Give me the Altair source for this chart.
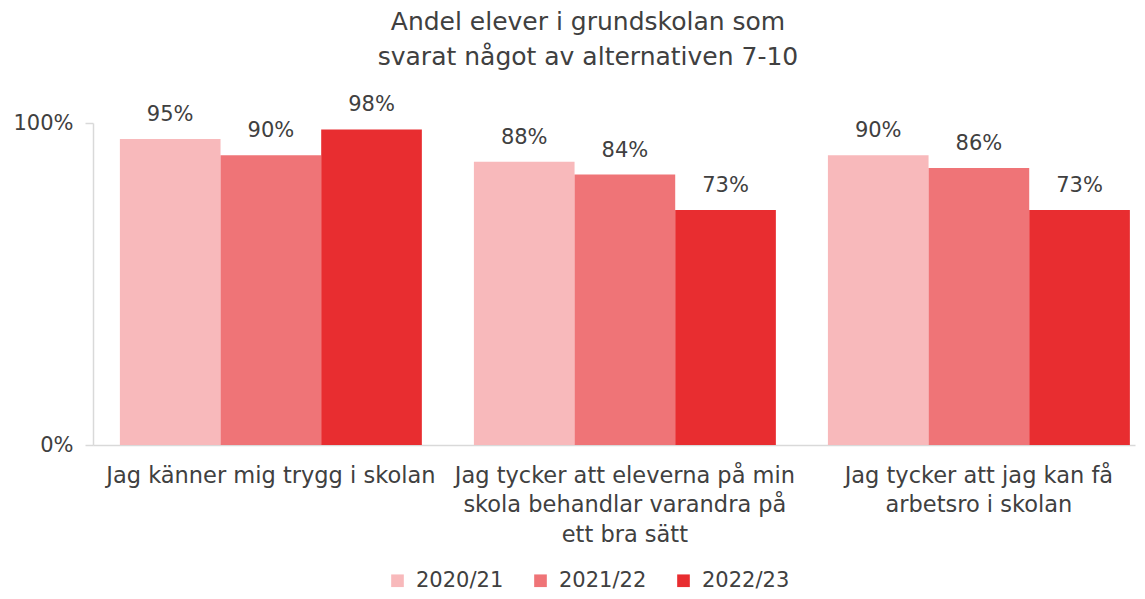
import altair as alt
import pandas as pd

categories = [
    "Jag känner mig trygg i skolan",
    "Jag tycker att eleverna på min|skola behandlar varandra på|ett bra sätt",
    "Jag tycker att jag kan få|arbetsro i skolan",
]
years = ["2020/21", "2021/22", "2022/23"]
values = {
    "2020/21": [0.95, 0.88, 0.90],
    "2021/22": [0.90, 0.84, 0.86],
    "2022/23": [0.98, 0.73, 0.73],
}
colors = ["#f8b9bb", "#ef7477", "#e82d30"]

rows = []
for y in years:
    for c, v in zip(categories, values[y]):
        rows.append({"kategori": c, "år": y, "andel": v})
df = pd.DataFrame(rows)

FONT = "DejaVu Sans"
TXT = "#404040"

base = alt.Chart(df).encode(
    x=alt.X(
        "kategori:N",
        sort=categories,
        scale=alt.Scale(paddingInner=0.147, paddingOuter=0.0452, align=0.84),
        axis=alt.Axis(
            title=None,
            labelAngle=0,
            labelExpr="split(datum.label, '|')",
            labelFontSize=22.5,
            labelColor=TXT,
            labelFont=FONT,
            labelLimit=500,
            labelPadding=19,
            labelLineHeight=29.5,
            labelBaseline="top",
            ticks=False,
            domainColor="#d9d9d9",
            domainWidth=1.5,
        ),
    ),
    xOffset=alt.XOffset("år:N", sort=years, scale=alt.Scale(paddingInner=0, paddingOuter=0)),
)

bars = base.mark_bar().encode(
    y=alt.Y(
        "andel:Q",
        scale=alt.Scale(domain=[0, 1]),
        axis=alt.Axis(
            title=None,
            values=[0, 1],
            format=".0%",
            labelFontSize=21,
            labelColor=TXT,
            labelFont=FONT,
            labelPadding=12,
            tickSize=8,
            tickColor="#d9d9d9",
            tickWidth=1.5,
            domainColor="#d9d9d9",
            domainWidth=1.5,
            grid=False,
        ),
    ),
    color=alt.Color(
        "år:N",
        sort=years,
        scale=alt.Scale(domain=years, range=colors),
        legend=alt.Legend(
            title=None,
            orient="none",
            direction="horizontal",
            legendX=294,
            legendY=447,
            symbolType="square",
            symbolSize=160,
            symbolStrokeWidth=0,
            labelFontSize=21,
            labelColor=TXT,
            labelFont=FONT,
            labelOffset=8,
            columnPadding=26,
        ),
    ),
)

labels = base.mark_text(
    baseline="alphabetic", dy=-18, fontSize=21, color=TXT, font=FONT
).encode(
    y="andel:Q",
    text=alt.Text("andel:Q", format=".0%"),
)

chart = (
    alt.layer(bars, labels)
    .properties(
        width=1042,
        height=322,
        autosize=alt.AutoSizeParams(type="none"),
        padding={"left": 85, "top": 115, "right": 2, "bottom": 146},
        title=alt.TitleParams(
            text=["Andel elever i grundskolan som", "svarat något av alternativen 7-10"],
            fontSize=25,
            font=FONT,
            fontWeight="normal",
            color=TXT,
            lineHeight=35,
            anchor="middle",
            dx=-26,
            offset=24,
        ),
    )
    .configure_view(stroke=None)
)

chart.save("out.html", embed_options={"renderer": "svg", "actions": False})
